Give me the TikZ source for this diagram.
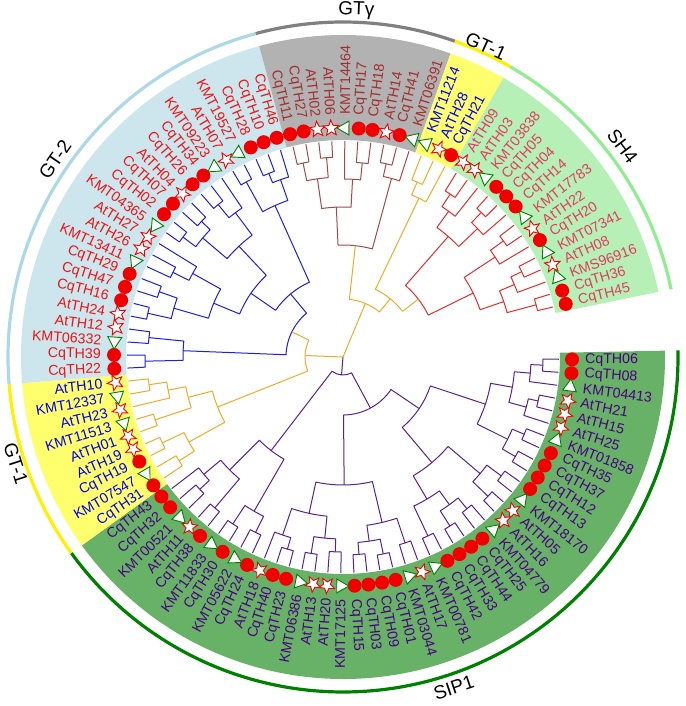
\documentclass[tikz,border=0pt]{standalone}
\usepackage{fontspec}
\setmainfont{Liberation Sans}
\usetikzlibrary{shapes.geometric}
\definecolor{bGTtwo}{RGB}{205,229,237}
\definecolor{bGTg}{RGB}{178,178,178}
\definecolor{bGTone}{RGB}{255,255,110}
\definecolor{bSH}{RGB}{183,240,183}
\definecolor{bSIP}{RGB}{104,178,104}
\definecolor{aGTtwo}{RGB}{173,216,230}
\definecolor{aGTg}{RGB}{128,128,128}
\definecolor{aGTone}{RGB}{255,240,0}
\definecolor{aSH}{RGB}{144,238,144}
\definecolor{aSIP}{RGB}{0,128,0}
\definecolor{tSIP}{RGB}{75,0,130}
\definecolor{tGTone}{RGB}{0,0,230}
\definecolor{tGTtwo}{RGB}{235,20,20}
\definecolor{tGTg}{RGB}{165,45,45}
\definecolor{tSH}{RGB}{225,60,95}
\definecolor{brSIP}{RGB}{85,35,145}
\definecolor{brOr}{RGB}{242,170,40}
\definecolor{brBlue}{RGB}{30,30,225}
\definecolor{brBrown}{RGB}{160,75,75}
\definecolor{brRed}{RGB}{225,45,45}
\definecolor{symred}{RGB}{240,0,0}
\definecolor{symgreen}{RGB}{0,128,0}
\tikzset{
  branch/.style={line width=1pt,line join=round},
  lab/.style={font=\fontsize{14.2}{16}\selectfont,inner sep=0pt},
  grp/.style={font=\fontsize{19}{21}\selectfont,inner sep=0pt},
  starsym/.style={star,star points=5,star point ratio=2.3,draw=symred,fill=white,line width=0.9pt,minimum size=16.5pt,inner sep=0pt},
  trisym/.style={regular polygon,regular polygon sides=3,draw=symgreen,fill=white,line width=0.9pt,minimum size=16pt,inner sep=0pt}
}
\newcommand\clade[5]{%
  \edef\cpA{\csname tp@#2\endcsname}%
  \edef\crA{\csname tr@#2\endcsname}%
  \edef\cpB{\csname tp@#3\endcsname}%
  \edef\crB{\csname tr@#3\endcsname}%
  \pgfmathsetmacro\caA{-0.6-3.46*\cpA}%
  \pgfmathsetmacro\caB{-0.6-3.46*\cpB}%
  \draw[branch,draw=#5] (\caA:\crA pt) -- (\caA:#4pt) arc[start angle=\caA,end angle=\caB,radius=#4pt] -- (\caB:\crB pt);%
  \pgfmathsetmacro\cpM{(\cpA+\cpB)/2}%
  \expandafter\xdef\csname tp@#1\endcsname{\cpM}%
  \expandafter\xdef\csname tr@#1\endcsname{#4}%
}
\newcommand\bandarc[4]{%
  \fill[#3] (#1:217pt) arc[start angle=#1,end angle=#2,radius=217pt] -- (#2:322pt) arc[start angle=#2,end angle=#1,radius=322pt] -- cycle;
  \draw[line width=3.2pt,#4] (#1:335pt) arc[start angle=#1,end angle=#2,radius=335pt];}
\begin{document}
\begin{tikzpicture}[x=1pt,y=1pt]
\useasboundingbox (0,0) rectangle (685,706);
\begin{scope}[shift={(343,349)}]
% bands and outer arcs
\bandarc{1.13}{-144.19}{bSIP}{aSIP}
\bandarc{-144.19}{-175.33}{bGTone}{aGTone}
\bandarc{-175.33}{-254.91}{bGTtwo}{aGTtwo}
\bandarc{-254.91}{-289.51}{bGTg}{aGTg}
\bandarc{-289.51}{-299.89}{bGTone}{aGTone}
\bandarc{-299.89}{-348.33}{bSH}{aSH}
% group labels
\node[grp,rotate=-2.2] (lgg) at (87.8:347pt) {GTγ};
\node[grp,rotate=-24.7] (lgt1a) at (65.3:342pt) {GT-1};
\node[grp,rotate=-53] (lsh) at (37:350pt) {SH4};
\node[grp,rotate=18.5] (lsip) at (-71.5:349pt) {SIP1};
\node[grp,rotate=-72] (lgt1b) at (198:344pt) {GT-1};
\node[grp,rotate=55.6] (lgt2) at (145.6:349pt) {GT-2};
% leaves
\foreach \i in {0,...,100}{\expandafter\xdef\csname tp@\i\endcsname{\i}\expandafter\xdef\csname tr@\i\endcsname{216}}
% SIP1
\clade{p1}{0}{1}{200}{brSIP}
\clade{p2}{p1}{2}{188}{brSIP}
\clade{p3}{3}{4}{200}{brSIP}
\clade{p4}{p3}{5}{190}{brSIP}
\clade{p5}{p2}{p4}{172}{brSIP}
\clade{p6}{6}{7}{197}{brSIP}
\clade{p7}{8}{9}{199}{brSIP}
\clade{p8}{p6}{p7}{184}{brSIP}
\clade{p9}{p5}{p8}{150}{brSIP}
\clade{p10}{10}{11}{198}{brSIP}
\clade{p11}{12}{13}{201}{brSIP}
\clade{p12}{p10}{p11}{180}{brSIP}
\clade{p13}{14}{15}{196}{brSIP}
\clade{p14}{16}{17}{200}{brSIP}
\clade{p15}{p13}{p14}{182}{brSIP}
\clade{p16}{18}{19}{198}{brSIP}
\clade{p17}{p15}{p16}{165}{brSIP}
\clade{p18}{p12}{p17}{138}{brSIP}
\clade{p19}{p9}{p18}{92}{brSIP}
\clade{q1}{20}{21}{196}{brSIP}
\clade{q2}{22}{23}{201}{brSIP}
\clade{q3}{24}{25}{198}{brSIP}
\clade{q4}{q2}{q3}{186}{brSIP}
\clade{q5}{q1}{q4}{170}{brSIP}
\clade{q6}{26}{27}{195}{brSIP}
\clade{q7}{28}{29}{199}{brSIP}
\clade{q8}{q6}{q7}{182}{brSIP}
\clade{q9}{30}{31}{200}{brSIP}
\clade{q10}{q9}{32}{188}{brSIP}
\clade{q11}{q8}{q10}{160}{brSIP}
\clade{q12}{q5}{q11}{128}{brSIP}
\clade{u1}{33}{34}{196}{brSIP}
\clade{u2}{35}{36}{200}{brSIP}
\clade{u3}{u1}{u2}{178}{brSIP}
\clade{u4}{37}{38}{198}{brSIP}
\clade{u5}{39}{40}{195}{brSIP}
\clade{u6}{u5}{41}{182}{brSIP}
\clade{u7}{u4}{u6}{160}{brSIP}
\clade{u8}{u3}{u7}{118}{brSIP}
\clade{v1}{p19}{q12}{58}{brSIP}
\clade{v2}{v1}{u8}{18}{brSIP}
% GT-1 lower
\clade{o1}{49}{50}{196}{brOr}
\clade{o2}{48}{o1}{178}{brOr}
\clade{o3}{46}{47}{198}{brOr}
\clade{o4}{o2}{o3}{160}{brOr}
\clade{o5}{44}{45}{200}{brOr}
\clade{o6}{42}{43}{194}{brOr}
\clade{o7}{o6}{o5}{176}{brOr}
\clade{o8}{o4}{o7}{135}{brOr}
% GT-2
\clade{b1}{51}{52}{198}{brBlue}
\clade{b2}{53}{54}{195}{brBlue}
\clade{b3}{b1}{b2}{160}{brBlue}
\clade{b4}{55}{56}{200}{brBlue}
\clade{b5}{57}{58}{195}{brBlue}
\clade{b6}{b4}{b5}{176}{brBlue}
\clade{b7}{59}{60}{190}{brBlue}
\clade{b8}{b7}{61}{172}{brBlue}
\clade{b9}{b6}{b8}{140}{brBlue}
\clade{b10}{62}{63}{200}{brBlue}
\clade{b11}{64}{65}{196}{brBlue}
\clade{b12}{b10}{b11}{184}{brBlue}
\clade{b13}{66}{67}{197}{brBlue}
\clade{b14}{b13}{68}{180}{brBlue}
\clade{b15}{b12}{b14}{152}{brBlue}
\clade{b16}{b9}{b15}{112}{brBlue}
\clade{b17}{69}{70}{200}{brBlue}
\clade{b18}{71}{72}{198}{brBlue}
\clade{b19}{b18}{73}{188}{brBlue}
\clade{b20}{b17}{b19}{166}{brBlue}
\clade{b21}{b16}{b20}{82}{brBlue}
\clade{b22}{b3}{b21}{57}{brBlue}
\clade{W}{b22}{o8}{38}{brOr}
% GT gamma
\clade{g1}{74}{75}{198}{brBrown}
\clade{g2}{76}{77}{200}{brBrown}
\clade{g3}{g1}{g2}{180}{brBrown}
\clade{g4}{79}{80}{195}{brBrown}
\clade{g5}{78}{g4}{178}{brBrown}
\clade{g6}{g3}{g5}{150}{brBrown}
\clade{g7}{81}{82}{198}{brBrown}
\clade{g8}{g7}{83}{185}{brBrown}
\clade{g9}{g6}{g8}{112}{brBrown}
% GT-1 upper
\clade{t1}{84}{85}{190}{brOr}
\clade{t2}{t1}{86}{176}{brOr}
% SH4
\clade{s1}{87}{88}{195}{brRed}
\clade{s2}{s1}{89}{180}{brRed}
\clade{s3}{90}{91}{200}{brRed}
\clade{s4}{s3}{92}{186}{brRed}
\clade{s5}{s2}{s4}{160}{brRed}
\clade{s6}{93}{94}{198}{brRed}
\clade{s7}{s6}{95}{182}{brRed}
\clade{s8}{96}{97}{198}{brRed}
\clade{s9}{s8}{98}{186}{brRed}
\clade{s10}{99}{100}{200}{brRed}
\clade{s11}{s9}{s10}{170}{brRed}
\clade{s12}{s7}{s11}{145}{brRed}
\clade{s13}{s5}{s12}{95}{brRed}
\clade{t3}{t2}{s13}{75}{brOr}
\clade{C}{g9}{t3}{58}{brOr}
% root
\coordinate (root) at (0,0);
\pgfmathsetmacro\rootA{-0.6-3.46*\csname tp@v2\endcsname}
\pgfmathsetmacro\rootB{-0.6-3.46*\csname tp@W\endcsname}
\pgfmathsetmacro\rootC{-0.6-3.46*\csname tp@C\endcsname}
\coordinate (nv) at (\rootA:18pt);
\coordinate (nw) at (\rootB:38pt);
\coordinate (nc) at (\rootC:58pt);
\draw[branch,draw=brSIP] (root) -- (nv);
\draw[branch,draw=brOr] (root) -- (nw);
\draw[branch,draw=brOr] (root) -- (nc);
% symbols and labels
\foreach \nm/\ty [count=\i from 0] in {
CqTH06/c,CqTH08/c,KMT04413/t,AtTH21/s,AtTH15/s,AtTH25/s,KMT01858/t,CqTH35/c,CqTH37/c,CqTH12/c,
CqTH13/c,KMT18170/t,AtTH05/s,AtTH16/s,KMT04779/t,CqTH25/c,CqTH44/c,CqTH33/c,CqTH42/c,KMT00781/t,
AtTH17/s,KMT03044/t,CqTH01/c,CqTH09/c,CqTH03/c,CqTH15/c,KMT17125/t,AtTH20/s,AtTH13/s,KMT06386/t,
CqTH23/c,CqTH40/c,AtTH18/s,CqTH24/c,KMT05622/t,CqTH30/c,KMT11833/t,CqTH38/c,AtTH11/s,KMT00521/t,
CqTH32/c,CqTH43/c,CqTH31/c,KMT07547/t,CqTH19/c,AtTH19/s,AtTH01/s,KMT11513/t,AtTH23/s,KMT12337/t,
AtTH10/s,CqTH22/c,CqTH39/c,KMT06332/t,AtTH12/s,AtTH24/s,CqTH16/c,CqTH47/c,CqTH29/c,KMT13411/t,
AtTH26/s,AtTH27/s,KMT04365/t,CqTH02/c,CqTH07/c,AtTH04/s,CqTH26/c,CqTH34/c,KMT09223/t,AtTH07/s,
KMT19527/t,CqTH28/c,CqTH10/c,CqTH46/c,CqTH11/c,CqTH27/c,AtTH02/s,AtTH06/s,KMT14464/t,CqTH17/c,
CqTH18/c,AtTH14/s,CqTH41/c,KMT06391/t,KMT11214/t,AtTH28/s,CqTH21/c,AtTH09/s,AtTH03/s,KMT03838/t,
CqTH05/c,CqTH04/c,CqTH14/c,KMT17783/t,AtTH22/s,CqTH20/c,KMT07341/t,AtTH08/s,KMS96916/t,CqTH36/c,
CqTH45/c}{
  \pgfmathsetmacro\ang{-0.6-3.46*\i}
  \ifnum\i<42 \def\lc{tSIP}\else\ifnum\i<51 \def\lc{tGTone}\else\ifnum\i<74 \def\lc{tGTtwo}\else\ifnum\i<84 \def\lc{tGTg}\else\ifnum\i<87 \def\lc{tGTone}\else\def\lc{tSH}\fi\fi\fi\fi\fi
  \if c\ty \fill[symred] (\ang:229pt) circle[radius=7pt];\fi
  \if s\ty \pgfmathsetmacro\angs{\ang-90}\node[starsym,rotate=\angs] (sym\i) at (\ang:229pt) {};\fi
  \if t\ty \node[trisym,rotate=\ang] (sym\i) at (\ang:229pt) {};\fi
  \ifnum\i<26 \node[lab,text=\lc,rotate=\ang,anchor=west] (lab\i) at (\ang:242pt) {\nm};
  \else\ifnum\i>77 \node[lab,text=\lc,rotate=\ang,anchor=west] (lab\i) at (\ang:242pt) {\nm};
  \else \pgfmathsetmacro\angb{\ang+180}\node[lab,text=\lc,rotate=\angb,anchor=east] (lab\i) at (\ang:242pt) {\nm};\fi\fi
}
\end{scope}
\end{tikzpicture}
\end{document}
